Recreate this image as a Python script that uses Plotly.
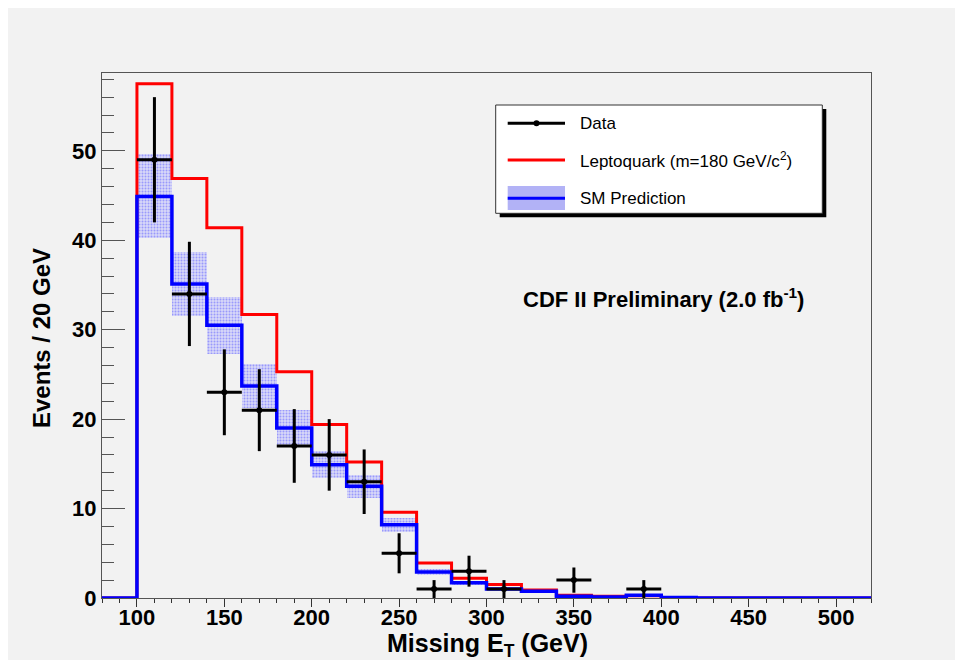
import plotly.graph_objects as go

# ---------------- data ----------------
bin_edges = [80 + 20 * i for i in range(23)]          # 80 ... 520 GeV
bin_centers = [90 + 20 * i for i in range(22)]

leptoquark = [0, 57.5, 46.9, 41.4, 31.7, 25.3, 19.4, 15.2, 9.6, 3.9, 2.2,
              1.5, 0.9, 0.3, 0.2, 0.25, 0.05, 0, 0, 0, 0, 0]
sm_pred = [0, 44.9, 35.1, 30.5, 23.7, 19.0, 14.9, 12.5, 8.2, 2.9, 1.7,
           1.0, 0.75, 0.2, 0.1, 0.3, 0.05, 0, 0, 0, 0, 0]
sm_unc = [0, 4.7, 3.6, 3.2, 2.5, 2.0, 1.5, 1.3, 0.8, 0.3, 0.2,
          0.15, 0.1, 0.05, 0.05, 0.05, 0, 0, 0, 0, 0, 0]

data_x = [110, 130, 150, 170, 190, 210, 230, 250, 270, 290, 310, 350, 390]
data_y = [49, 34, 23, 21, 17, 16, 13, 5, 1, 3, 1, 2, 1]
data_err = [7.0, 5.83, 4.80, 4.58, 4.12, 4.0, 3.61, 2.24, 1.0, 1.73, 1.0, 1.41, 1.0]

x_ticks = [100, 150, 200, 250, 300, 350, 400, 450, 500]
y_ticks = [0, 10, 20, 30, 40, 50]

# ---------------- layout geometry ----------------
W, H = 955, 660
ML, MR, MT, MB = 102, 84, 73, 62
PW, PH = W - ML - MR, H - MT - MB


def px_x(px):
    return (px - ML) / PW


def px_y(py):
    return (H - MB - py) / PH


FONT = "Liberation Sans, Arial, Helvetica, sans-serif"
BG = "#f2f2f2"

fig = go.Figure()

# SM uncertainty band
fig.add_trace(go.Bar(
    x=bin_centers,
    y=[2 * e for e in sm_unc],
    base=[v - e for v, e in zip(sm_pred, sm_unc)],
    width=20,
    marker=dict(color="rgba(170,170,245,0.9)", line=dict(width=0),
                pattern=dict(shape=".", fgcolor="#5a5aff", bgcolor="#d8d8f8",
                             size=3, solidity=0.35)),
    showlegend=False, hoverinfo="skip",
))

# Leptoquark histogram
fig.add_trace(go.Scatter(
    x=bin_edges, y=leptoquark + [leptoquark[-1]], mode="lines",
    line=dict(color="#ff0000", width=3, shape="hv"), showlegend=False,
))

# SM histogram
fig.add_trace(go.Scatter(
    x=bin_edges, y=sm_pred + [sm_pred[-1]], mode="lines",
    line=dict(color="#0000ff", width=3.5, shape="hv"), showlegend=False,
))

# Data
fig.add_trace(go.Scatter(
    x=data_x, y=data_y, mode="markers",
    marker=dict(color="black", size=6),
    error_y=dict(type="data", array=data_err, color="black", thickness=3, width=0),
    error_x=dict(type="constant", value=10, color="black", thickness=3, width=0),
    showlegend=False,
))

shapes = []
annotations = []

# canvas background with white strip on top/left
shapes.append(dict(type="rect", xref="paper", yref="paper",
                   x0=px_x(8), x1=px_x(W + 5), y0=px_y(H + 5), y1=px_y(8),
                   fillcolor=BG, line=dict(width=0), layer="below"))

# legend box (shadow + box)
lx0, lx1, ly0, ly1 = 495.7, 822.3, 105, 213.3
shapes.append(dict(type="rect", xref="paper", yref="paper",
                   x0=px_x(lx0 + 4), x1=px_x(lx1 + 4), y0=px_y(ly1 + 4), y1=px_y(ly0 + 4),
                   fillcolor="black", line=dict(width=0)))
shapes.append(dict(type="rect", xref="paper", yref="paper",
                   x0=px_x(lx0), x1=px_x(lx1), y0=px_y(ly1), y1=px_y(ly0),
                   fillcolor="white", line=dict(color="#333333", width=1)))

sx0, sx1 = 507.7, 565
# Data entry
shapes.append(dict(type="line", xref="paper", yref="paper",
                   x0=px_x(sx0), x1=px_x(sx1), y0=px_y(123.3), y1=px_y(123.3),
                   line=dict(color="black", width=3)))
shapes.append(dict(type="circle", xref="paper", yref="paper",
                   x0=px_x(533.5), x1=px_x(539.5), y0=px_y(126.3), y1=px_y(120.3),
                   fillcolor="black", line=dict(width=0)))
# Leptoquark entry
shapes.append(dict(type="line", xref="paper", yref="paper",
                   x0=px_x(sx0), x1=px_x(sx1), y0=px_y(160), y1=px_y(160),
                   line=dict(color="#ff0000", width=3)))
# SM entry
shapes.append(dict(type="rect", xref="paper", yref="paper",
                   x0=px_x(sx0), x1=px_x(sx1), y0=px_y(210), y1=px_y(186),
                   fillcolor="rgba(170,170,245,0.9)", line=dict(width=0)))
shapes.append(dict(type="line", xref="paper", yref="paper",
                   x0=px_x(sx0), x1=px_x(sx1), y0=px_y(198.3), y1=px_y(198.3),
                   line=dict(color="#0000ff", width=3)))

legend_texts = [("Data", 123.3),
                ("Leptoquark (m=180 GeV/c<sup>2</sup>)", 160),
                ("SM Prediction", 198.3)]
for txt, yy in legend_texts:
    annotations.append(dict(text=txt, xref="paper", yref="paper",
                            x=px_x(578), y=px_y(yy), xanchor="left", yanchor="middle",
                            showarrow=False, font=dict(family=FONT, size=17, color="black")))

# CDF label
annotations.append(dict(text="<b>CDF II Preliminary (2.0 fb<sup>-1</sup>)</b>",
                        xref="paper", yref="paper", x=px_x(663), y=px_y(298),
                        xanchor="center", yanchor="middle", showarrow=False,
                        font=dict(family=FONT, size=22, color="black")))

# axis titles
annotations.append(dict(text="<b>Missing E<sub>T</sub> (GeV)</b>",
                        xref="paper", yref="paper", x=px_x(487), y=px_y(645),
                        xanchor="center", yanchor="middle", showarrow=False,
                        font=dict(family=FONT, size=25, color="black")))
annotations.append(dict(text="<b>Events / 20 GeV</b>",
                        xref="paper", yref="paper", x=px_x(41), y=px_y(338),
                        xanchor="center", yanchor="middle", showarrow=False, textangle=-90,
                        font=dict(family=FONT, size=24, color="black")))

fig.update_layout(
    width=W, height=H,
    margin=dict(l=ML, r=MR, t=MT, b=MB, pad=0),
    paper_bgcolor="white", plot_bgcolor=BG,
    showlegend=False, bargap=0,
    shapes=shapes, annotations=annotations,
    xaxis=dict(range=[80, 520], tickvals=x_ticks, ticktext=[str(v) for v in x_ticks],
               ticks="outside", ticklen=8, tickcolor="#333", tickwidth=1,
               ticklabelstandoff=-8,
               minor=dict(dtick=10, tick0=0, ticks="outside", ticklen=4, tickcolor="#333"),
               showline=True, linecolor="#555", linewidth=1, mirror=True,
               showgrid=False, zeroline=False,
               tickfont=dict(family=FONT, size=22, color="black", weight="bold")),
    yaxis=dict(range=[0, 58.7], tickvals=y_ticks, ticktext=[str(v) for v in y_ticks],
               ticks="inside", ticklen=23, tickcolor="#555", tickwidth=1,
               minor=dict(dtick=2, tick0=0, ticks="inside", ticklen=12, tickcolor="#555"),
               showline=True, linecolor="#555", linewidth=1, mirror=True,
               showgrid=False, zeroline=False,
               tickfont=dict(family=FONT, size=22, color="black", weight="bold")),
)

fig.write_html("out.html")
